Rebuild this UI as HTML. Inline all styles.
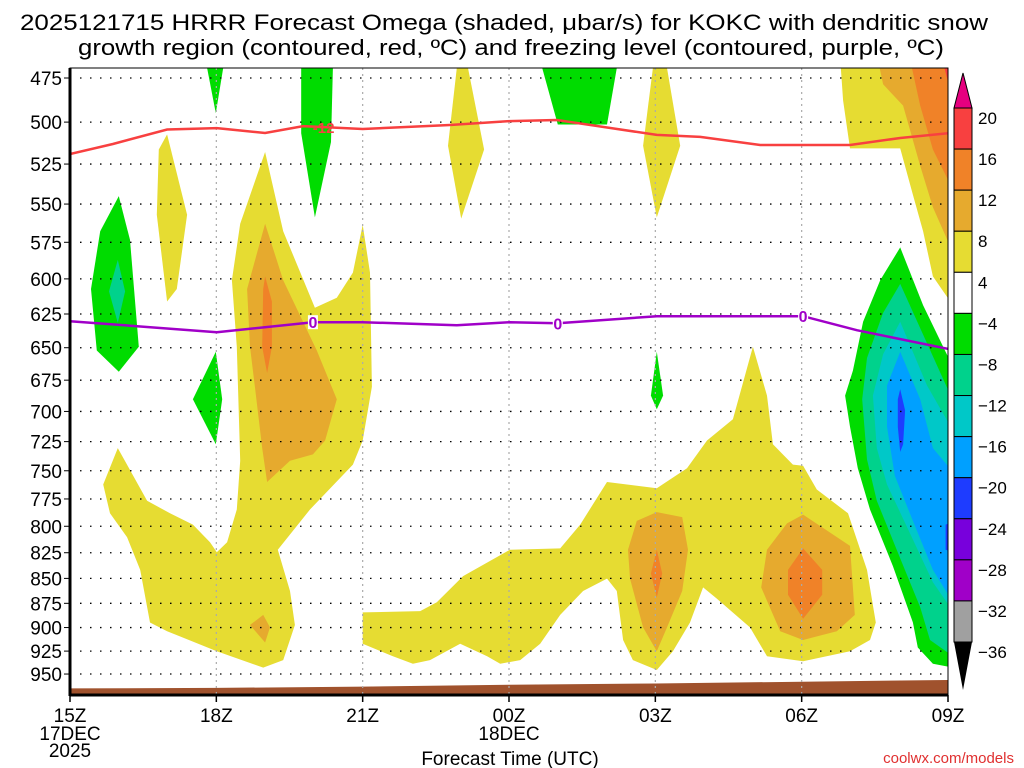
<!DOCTYPE html>
<html><head><meta charset="utf-8"><style>
html,body{margin:0;padding:0;background:#fff;}
svg{display:block;font-family:"Liberation Sans",sans-serif;}
</style></head><body>
<svg id="chart" width="1024" height="768" viewBox="0 0 1024 768" xmlns="http://www.w3.org/2000/svg">
<text x="20" y="30" font-size="22" textLength="968" lengthAdjust="spacingAndGlyphs">2025121715 HRRR Forecast Omega (shaded, μbar/s) for KOKC with dendritic snow</text>
<text x="78" y="55" font-size="22" textLength="866" lengthAdjust="spacingAndGlyphs">growth region (contoured, red, ºC) and freezing level (contoured, purple, ºC)</text>
<defs><clipPath id="plotclip"><rect x="70" y="68" width="878" height="627"/></clipPath></defs>
<g id="fills" clip-path="url(#plotclip)"></g>
<g id="grid"></g>
<g id="lines" clip-path="url(#plotclip)"></g>
<g id="axes"></g>
<g id="cbar"></g>
<text x="510" y="765" font-size="19" text-anchor="middle">Forecast Time (UTC)</text>
<text x="1014" y="763" font-size="15" fill="#e03030" text-anchor="end">coolwx.com/models</text>
</svg>
<script>
const NS="http://www.w3.org/2000/svg";
const pressureTicks=[475,500,525,550,575,600,625,650,675,700,725,750,775,800,825,850,875,900,925,950];
const timeTicks=[0,3,6,9,12,15,18];
const timeLabels=["15Z","18Z","21Z","00Z","03Z","06Z","09Z"];
const cbarLevels=[20,16,12,8,4,-4,-8,-12,-16,-20,-24,-28,-32,-36];
const cbarColors=["#f84040","#f08228","#e6aa2e","#e6dc32","#ffffff","#00dc00","#00d28c","#00c8c8","#00a0ff","#1e3cff","#7800dc","#a000c8","#a0a0a0"];
const terrainHours=[0,3,6,9,12,15,18];
const terrainSfcP=[966,965.4,964,962,960.5,958.5,956.6];
const dgzHours=[0,0.88,1.99,3.01,4.0,4.78,6.0,7.79,9.02,9.98,12.03,12.92,14.15,15.99,17.02,18.04];
const dgzPres=[518.9,512.9,504.3,503.5,506.4,502.3,504.0,501.7,499.4,498.8,507.5,508.7,513.5,513.5,509.3,506.4];
const frzHours=[0,3.01,4.98,6.0,7.93,9.02,10.0,12.03,15.03,16.13,18.04];
const frzPres=[630.3,638.4,631.0,631.0,633.3,631.0,631.8,626.6,626.6,636.9,651.2];
const frzLabelHours=[4.98,10.0,15.03];
const dgzLabelHours=[5.2];
// shaded omega regions: [colorIndex, [[hour,hPa],...]]
const shadedRegions=[
[5,[[2.81,469.5],[3.14,469.5],[2.99,494.8]]],
[5,[[4.74,469.5],[5.39,469.5],[5.35,511.7],[5.02,558.6],[4.74,506.5]]],
[3,[[7.93,469.5],[8.16,469.5],[8.49,516.2],[8.02,559.4],[7.75,513.9]]],
[3,[[1.99,507.2],[2.40,556.9],[2.19,607.1],[1.99,616.0],[1.78,556.9],[1.82,516.2]]],
[5,[[1.0,544.9],[1.23,573.4],[1.41,649.3],[1.0,668.4],[0.55,652.1],[0.43,607.1],[0.62,567.6]]],
[6,[[0.98,586.9],[1.13,608.8],[0.98,631.5],[0.80,608.8]]],
[5,[[2.99,653.1],[3.12,690.2],[2.99,727.3],[2.52,690.2]]],
[3,[[4.0,517.7],[4.37,567.6],[5.02,620.5],[5.47,613.3],[5.80,595.6],[6.0,563.5],[6.15,595.6],[6.19,680.2],[6.0,724.1],[5.80,744.6],[4.92,784.6],[4.26,822.1],[4.51,862.6],[4.61,897.3],[4.37,934.7],[3.96,942.9],[3.01,925.2],[1.99,903.8],[1.64,894.7],[1.44,841.6],[1.17,810.2],[0.82,788.0],[0.68,762.1],[0.98,730.5],[1.58,776.6],[2.05,788.0],[2.52,798.5],[2.87,815.0],[3.01,824.5],[3.22,815.0],[3.42,784.6],[3.49,741.3],[3.42,649.3],[3.32,600.9],[3.49,562.7]]],
[2,[[4.0,562.7],[4.37,600.9],[5.06,652.1],[5.47,690.2],[5.23,724.1],[4.98,735.9],[4.51,741.3],[4.04,759.9],[3.94,730.5],[3.79,680.2],[3.69,649.3],[3.63,607.1]]],
[1,[[4.0,598.3],[4.14,616.0],[4.14,649.3],[4.04,669.4],[3.94,649.3],[3.96,607.1]]],
[2,[[3.96,886.9],[4.1,899.9],[4.0,915.8],[3.69,897.3]]],
[3,[[6.0,884.3],[7.18,883.0],[7.52,874.0],[8.06,847.7],[9.02,822.1],[10.05,820.9],[10.46,798.5],[11.01,759.9],[12.03,765.4],[12.65,747.8],[13.06,724.1],[13.59,706.4],[14.0,649.3],[14.29,687.2],[14.41,727.3],[14.82,744.6],[15.03,745.6],[15.31,766.5],[15.95,788.0],[16.34,841.6],[16.52,894.7],[16.4,913.1],[15.99,925.2],[15.03,936.0],[14.29,930.6],[13.94,899.9],[13.26,870.2],[12.98,858.9],[12.71,894.7],[12.36,925.2],[12.03,945.6],[11.54,934.7],[11.34,913.1],[11.21,862.6],[11.01,850.2],[10.52,862.6],[10.05,886.9],[9.64,917.1],[9.23,934.7],[8.82,938.8],[8.55,930.6],[8.0,917.1],[7.38,934.7],[7.03,938.8],[6.62,930.6],[6.0,917.1]]],
[2,[[12.03,786.9],[12.55,791.5],[12.67,822.1],[12.55,862.6],[12.24,899.9],[12.03,925.2],[11.75,899.9],[11.48,850.2],[11.44,822.1],[11.62,795.0]]],
[1,[[12.03,822.1],[12.14,845.2],[12.03,869.0],[11.91,845.2]]],
[2,[[15.03,789.2],[15.99,818.5],[16.09,886.9],[15.72,903.8],[15.03,913.1],[14.56,903.8],[14.17,858.9],[14.29,822.1],[14.7,797.3]]],
[1,[[15.03,820.9],[15.42,841.6],[15.42,866.4],[15.03,890.8],[14.72,866.4],[14.72,841.6]]],
[5,[[9.68,469.5],[11.21,469.5],[11.01,501.4],[10.0,501.4]]],
[3,[[11.95,469.5],[12.24,469.5],[12.51,513.9],[12.03,558.6],[11.75,513.9]]],
[5,[[12.03,653.1],[12.16,687.2],[12.03,698.2],[11.91,687.2]]],
[5,[[17.02,578.4],[17.49,618.7],[18.1,664.6],[18.1,942.9],[17.69,938.8],[17.38,921.1],[17.28,894.7],[16.87,837.9],[16.4,784.6],[16.15,747.8],[15.99,712.6],[15.89,687.2],[16.05,667.5],[16.26,630.6],[16.61,600.9]]],
[6,[[17.02,603.5],[18.1,691.2],[18.1,930.6],[17.63,913.1],[17.43,879.1],[17.02,830.5],[16.54,776.6],[16.34,740.2],[16.24,690.2],[16.34,657.8],[16.67,624.2]]],
[7,[[17.02,630.6],[17.57,679.2],[18.1,715.7],[18.1,883.0],[17.69,853.9],[17.22,806.7],[16.75,762.1],[16.54,730.5],[16.46,687.2],[16.67,655.0]]],
[8,[[17.02,653.1],[17.43,690.2],[17.69,730.5],[18.1,751.1],[18.1,874.0],[17.69,841.6],[17.28,795.0],[16.91,754.3],[16.75,712.6],[16.75,679.2]]],
[9,[[17.02,682.2],[17.12,699.2],[17.08,727.3],[17.02,733.7],[16.97,712.6],[16.97,690.2]]],
[9,[[17.95,798.5],[18.1,796.1],[18.1,824.5],[17.95,822.1]]],
[3,[[15.79,464.7],[18.1,464.7],[18.1,618.7],[17.69,598.3],[17.49,567.6],[17.28,544.1],[17.02,515.5],[15.99,515.5],[15.85,487.6]]],
[2,[[16.56,464.7],[18.1,464.7],[18.1,581.8],[17.69,552.0],[17.43,526.1],[17.08,490.5],[16.67,478.5]]],
[1,[[17.22,464.7],[18.1,464.7],[18.1,540.9],[17.69,516.2],[17.43,490.5]]],
[0,[[17.88,464.7],[18.1,464.7],[18.1,487.6]]]
];
const X0=70,X1=948,Y475=78,LOGK=859.9;
function xs(h){return X0+h*(X1-X0)/18;}
function ys(p){return Y475+LOGK*Math.log(p/475);}
function mk(tag,attrs,parent){const e=document.createElementNS(NS,tag);for(const k in attrs)e.setAttribute(k,attrs[k]);parent.appendChild(e);return e;}
const fills=document.getElementById('fills'),grid=document.getElementById('grid'),lines=document.getElementById('lines'),axes=document.getElementById('axes'),cbar=document.getElementById('cbar');
shadedRegions.forEach((r,i)=>{
  const el=mk('polygon',{points:r[1].map(q=>xs(q[0]).toFixed(1)+','+ys(q[1]).toFixed(1)).join(' '),fill:cbarColors[r[0]]},fills);
  
  
});
let tp='M'+xs(0)+',695 ';
terrainHours.forEach((h,i)=>{tp+='L'+xs(h).toFixed(1)+','+ys(terrainSfcP[i]).toFixed(1)+' ';});
tp+='L'+X1+',695 Z';
const terr=mk('path',{d:tp,fill:'#a0522d'},fills);


pressureTicks.forEach(p=>{
  const g=mk('line',{x1:X0,x2:X1,y1:ys(p),y2:ys(p),stroke:'#000','stroke-width':1.3,'stroke-dasharray':'1.5,8.5'},grid);
  
  
  const t=mk('text',{x:62,y:ys(p)+7,'font-size':19,'text-anchor':'end'},axes);
  t.textContent=p;
  
  
  mk('line',{x1:64,x2:70,y1:ys(p),y2:ys(p),stroke:'#000','stroke-width':1},axes);
});
timeTicks.forEach((h,i)=>{
  if(i>0&&i<timeTicks.length-1){
    const g=mk('line',{x1:xs(h),x2:xs(h),y1:68,y2:695,stroke:'#aaa','stroke-width':1.2,'stroke-dasharray':'2,4'},grid);
    
    
  }
  mk('line',{x1:xs(h),x2:xs(h),y1:695,y2:702,stroke:'#000','stroke-width':1.5},axes);
  const t=mk('text',{x:xs(h),y:722,'font-size':19,'text-anchor':'middle'},axes);
  t.textContent=timeLabels[i];
  
  
});
[["17DEC",0,740],["2025",0,757],["18DEC",9,740]].forEach(a=>{
  const t=mk('text',{x:xs(a[1]),y:a[2],'font-size':19,'text-anchor':'middle'},axes);
  t.textContent=a[0];
  
  
});
function linePath(hs,ps){return hs.map((h,i)=>(i?'L':'M')+xs(h).toFixed(1)+','+ys(ps[i]).toFixed(1)).join(' ');}
function interp(hs,ps,h){for(let i=0;i<hs.length-1;i++){if(h>=hs[i]&&h<=hs[i+1]){const f=(h-hs[i])/(hs[i+1]-hs[i]);return ps[i]+f*(ps[i+1]-ps[i]);}}return ps[ps.length-1];}
const dl=mk('path',{d:linePath(dgzHours,dgzPres),fill:'none',stroke:'#f84040','stroke-width':2.5},lines);


dgzLabelHours.forEach(h=>{
  const y=ys(interp(dgzHours,dgzPres,h));
  const t=mk('text',{x:xs(h),y:y+6,'font-size':15,'font-weight':'bold',fill:'#f84040','text-anchor':'middle'},lines);
  t.textContent='-12';
  
  
});
const fl=mk('path',{d:linePath(frzHours,frzPres),fill:'none',stroke:'#a000c8','stroke-width':2.5},lines);


frzLabelHours.forEach(h=>{
  const y=ys(interp(frzHours,frzPres,h));
  mk('rect',{x:xs(h)-5,y:y-7,width:10,height:14,fill:'#fff'},lines);
  const t=mk('text',{x:xs(h),y:y+6,'font-size':16,'font-weight':'bold',fill:'#a000c8','text-anchor':'middle'},lines);
  t.textContent='0';
  
  
});
const fr=mk('rect',{x:X0,y:68,width:X1-X0,height:627,fill:'none',stroke:'#000','stroke-width':1},axes);


mk('line',{x1:X0,x2:X0,y1:68,y2:696,stroke:'#000','stroke-width':3},axes);
mk('line',{x1:X0,x2:X1,y1:695,y2:695,stroke:'#000','stroke-width':3},axes);
const CB0=108,CBH=(642-108)/13,CX=954,CW=18;
const tri=mk('polygon',{points:`${CX},${CB0} ${CX+CW},${CB0} ${CX+CW/2},73`,fill:'#e6007f',stroke:'#000','stroke-width':1},cbar);


cbarColors.forEach((c,i)=>{
  const r=mk('rect',{x:CX,y:CB0+i*CBH,width:CW,height:CBH,fill:c,stroke:'#000','stroke-width':1},cbar);
  
  
});
const tri2=mk('polygon',{points:`${CX},642 ${CX+CW},642 ${CX+CW/2},690`,fill:'#000'},cbar);


cbarLevels.forEach((v,i)=>{
  const t=mk('text',{x:978,y:CB0+i*CBH+16,'font-size':17},cbar);
  t.textContent=(v<0?'−':'')+Math.abs(v);
  
  
});
</script>
</body></html>
